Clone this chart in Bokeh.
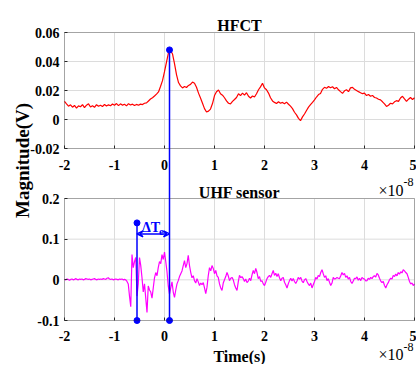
import numpy as np
from math import pi
from bokeh.plotting import figure
from bokeh.models import (Range1d, FixedTicker, Label, Arrow, VeeHead, BoxAnnotation,
                          LinearAxis)
from bokeh.embed import file_html
from bokeh.resources import INLINE

# ---------------- data (time in units of 1e-8 s) ----------------
hfct_step = 0.04
hfct_v = [
    0.0125, 0.0108, 0.0092, 0.0101, 0.0085, 0.0097, 0.0079, 0.0094, 0.0088, 0.0103,
    0.0082, 0.0099, 0.0108, 0.0086, 0.0095, 0.0084, 0.0102, 0.0091, 0.0098, 0.0089,
    0.0104, 0.0093, 0.0101, 0.0095, 0.0107, 0.0098, 0.0110, 0.0096, 0.0108, 0.0099,
    0.0105, 0.0094, 0.0109, 0.0100, 0.0106, 0.0097, 0.0104, 0.0098, 0.0106, 0.0103,
    0.0112, 0.0115, 0.0128, 0.0141, 0.0150, 0.0162, 0.0175, 0.0190, 0.0228, 0.0268,
    0.0330, 0.0395, 0.0462, 0.0478, 0.0452, 0.0385, 0.0310, 0.0255, 0.0232, 0.0218,
    0.0228, 0.0221, 0.0235, 0.0242, 0.0258, 0.0250, 0.0222, 0.0182, 0.0148, 0.0112,
    0.0075, 0.0052, 0.0058, 0.0072, 0.0110, 0.0165, 0.0192, 0.0203, 0.0178, 0.0168,
    0.0150, 0.0128, 0.0112, 0.0108, 0.0125, 0.0138, 0.0152, 0.0178, 0.0165, 0.0182,
    0.0168, 0.0185, 0.0160, 0.0148, 0.0162, 0.0155, 0.0178, 0.0205, 0.0225, 0.0250,
    0.0218, 0.0205, 0.0182, 0.0150, 0.0128, 0.0118, 0.0110, 0.0122, 0.0112, 0.0118,
    0.0109, 0.0120, 0.0105, 0.0092, 0.0075, 0.0050, 0.0032, 0.0008, -0.0008, 0.0018,
    0.0038, 0.0062, 0.0085, 0.0102, 0.0118, 0.0135, 0.0155, 0.0172, 0.0180, 0.0208,
    0.0222, 0.0215, 0.0228, 0.0219, 0.0226, 0.0212, 0.0221, 0.0205, 0.0192, 0.0180,
    0.0198, 0.0205, 0.0192, 0.0218, 0.0222, 0.0208, 0.0200, 0.0192, 0.0185, 0.0178,
    0.0182, 0.0165, 0.0172, 0.0160, 0.0166, 0.0152, 0.0148, 0.0140, 0.0135, 0.0122,
    0.0108, 0.0090, 0.0098, 0.0112, 0.0108, 0.0122, 0.0130, 0.0125, 0.0148, 0.0160,
    0.0142, 0.0125, 0.0140, 0.0152, 0.0138, 0.0150,
]

uhf_step = 0.025
uhf_v = [
    0.001, 0.000, 0.002, 0.001, -0.001, 0.001, 0.002, 0.000, 0.001, 0.003,
    0.001, 0.000, 0.002, 0.001, 0.002, 0.000, 0.001, 0.003, 0.002, 0.001,
    0.002, 0.000, 0.001, 0.002, 0.003, 0.001, 0.000, 0.002, 0.001, 0.002,
    0.001, 0.003, 0.002, 0.001, 0.004, 0.005, 0.002, 0.001, 0.002, 0.000,
    0.001, 0.002, 0.001, 0.000, 0.002, 0.001, 0.002, 0.000, 0.001, 0.000,
    -0.004, -0.010, -0.040, -0.066, 0.062, 0.030, 0.045, 0.055, -0.040, -0.010,
    0.055, 0.035, 0.005, -0.030, -0.010, -0.045, -0.080, -0.015, -0.025, -0.030,
    -0.045, -0.020, 0.005, 0.018, 0.010, 0.030, 0.045, 0.040, 0.062, 0.050,
    0.068, 0.045, 0.020, -0.015, -0.035, -0.020, -0.005, -0.030, -0.043, -0.025,
    -0.010, -0.002, 0.008, 0.015, 0.022, 0.035, 0.047, 0.030, 0.040, 0.060,
    0.035, 0.018, 0.005, 0.010, -0.002, -0.008, 0.003, -0.005, -0.014, -0.008,
    -0.012, -0.007, -0.020, -0.034, -0.018, 0.010, 0.030, 0.022, 0.035, 0.028,
    0.015, 0.023, 0.010, 0.006, -0.010, -0.020, -0.026, -0.008, 0.000, 0.008,
    0.018, 0.010, -0.002, 0.004, 0.006, 0.000, -0.012, -0.020, -0.026, -0.005,
    0.011, 0.005, 0.008, 0.003, -0.004, 0.002, -0.007, -0.003, 0.004, -0.002,
    0.012, 0.023, 0.015, 0.028, 0.018, 0.003, 0.008, -0.004, -0.002, -0.010,
    -0.014, -0.006, 0.003, 0.008, 0.011, 0.006, 0.015, 0.023, 0.011, 0.016,
    0.008, 0.015, 0.005, -0.002, 0.004, 0.006, -0.006, -0.012, -0.020, -0.010,
    -0.002, 0.004, -0.003, 0.003, -0.004, -0.009, -0.003, 0.006, 0.002, 0.006,
    -0.003, -0.007, 0.000, 0.003, -0.004, -0.010, -0.014, -0.008, -0.020, -0.012,
    -0.004, 0.006, 0.002, 0.011, 0.008, 0.018, 0.025, 0.015, 0.006, 0.010,
    -0.002, 0.003, -0.006, -0.014, -0.008, 0.006, 0.002, 0.003, 0.006, 0.004,
    0.003, 0.010, 0.018, 0.012, 0.016, 0.006, 0.010, 0.002, 0.006, -0.004,
    -0.009, -0.003, 0.004, 0.003, 0.007, -0.001, 0.004, -0.002, 0.006, 0.003,
    0.002, -0.003, -0.002, 0.004, 0.001, 0.006, 0.003, 0.008, 0.010, 0.007,
    0.016, 0.012, 0.004, -0.003, -0.007, -0.004, -0.014, -0.020, -0.012, -0.007,
    0.000, 0.004, 0.002, 0.011, 0.008, 0.014, 0.010, 0.018, 0.014, 0.020,
    0.017, 0.025, 0.022, 0.018, 0.015, 0.006, -0.004, -0.010, -0.008, -0.014,
    -0.010,
]

t_start = -2.0
hfct_t = t_start + hfct_step * np.arange(len(hfct_v))
uhf_t = t_start + uhf_step * np.arange(len(uhf_v))

t_peak = 0.10        # HFCT peak time
hfct_peak = 0.048    # HFCT peak value
t_onset = -0.55      # UHF onset time
onset_mark = 0.14    # top of onset marker line
arrow_level = 0.113  # level of the delta-T arrow
dt_text_level = 0.128

x_ticks = [-2, -1, 0, 1, 2, 3, 4, 5]
x_tick_labels = ["-2", "-1", "0", "1", "2", "3", "4", "5"]
top_y_ticks = [-0.02, 0, 0.02, 0.04, 0.06]
top_y_labels = ["-0.02", "0", "0.02", "0.04", "0.06"]
bot_y_ticks = [-0.1, 0, 0.1, 0.2]
bot_y_labels = ["-0.1", "0", "0.1", "0.2"]
xlim = (-2, 5)
top_ylim = (-0.02, 0.06)
bot_ylim = (-0.1, 0.2)

# ---------------- layout (pixel rows/columns of the two panels) ----------------
W, H = 416, 364
px_left, px_right = 64, 414
px_top_t, px_top_b = 32, 148
px_bot_t, px_bot_b = 198, 320

FONT = "Liberation Serif"
BOX = "#262626"
GRID = "#dcdcdc"
BLUE = "#0000ff"

ux = (px_right - px_left) / (xlim[1] - xlim[0])
ub = (px_bot_b - px_bot_t) / (bot_ylim[1] - bot_ylim[0])
ut = (px_top_b - px_top_t) / (top_ylim[1] - top_ylim[0])
x_range = Range1d(xlim[0] - px_left / ux, xlim[1] + (W - px_right) / ux)
y_range = Range1d(bot_ylim[0] - (H - px_bot_b) / ub, bot_ylim[1] + px_bot_t / ub)
top_range = Range1d(top_ylim[0] - (H - px_top_b) / ut, top_ylim[1] + px_top_t / ut)


def top_to_bot(v):
    return y_range.start + (v - top_range.start) * (y_range.end - y_range.start) / (
        top_range.end - top_range.start)


xmid = (xlim[0] + xlim[1]) / 2

p = figure(width=W, height=H, x_range=x_range, y_range=y_range,
           extra_y_ranges={"top": top_range},
           x_axis_location=None, y_axis_location=None,
           output_backend="svg", toolbar_location=None, min_border=0)
p.outline_line_color = None
p.xgrid.visible = False
p.ygrid.visible = False


def make_axis(ticks, labels, loc, standoff, yname="default"):
    ax = LinearAxis(ticker=FixedTicker(ticks=ticks), fixed_location=loc, y_range_name=yname)
    ax.major_label_overrides = dict(zip(ticks, labels))
    ax.major_label_text_font = FONT
    ax.major_label_text_font_style = "bold"
    ax.major_label_text_font_size = "14px"
    ax.major_label_text_color = "black"
    ax.major_label_standoff = standoff
    ax.axis_line_color = None
    ax.major_tick_in = 3
    ax.major_tick_out = 0
    ax.major_tick_line_color = BOX
    ax.minor_tick_line_color = None
    return ax


p.add_layout(make_axis(x_ticks, x_tick_labels, top_ylim[0], 11, "top"), "below")
p.add_layout(make_axis(x_ticks, x_tick_labels, bot_ylim[0], 10), "below")
p.add_layout(make_axis(top_y_ticks, top_y_labels, xlim[0], 5, "top"), "left")
p.add_layout(make_axis(bot_y_ticks, bot_y_labels, xlim[0], 5), "left")

# grid lines inside each panel
n_x = len(x_ticks)
p.segment(x0=x_ticks, y0=[top_ylim[0]] * n_x, x1=x_ticks, y1=[top_ylim[1]] * n_x,
          line_color=GRID, line_width=1, y_range_name="top")
p.segment(x0=[xlim[0]] * len(top_y_ticks), y0=top_y_ticks,
          x1=[xlim[1]] * len(top_y_ticks), y1=top_y_ticks,
          line_color=GRID, line_width=1, y_range_name="top")
p.segment(x0=x_ticks, y0=[bot_ylim[0]] * n_x, x1=x_ticks, y1=[bot_ylim[1]] * n_x,
          line_color=GRID, line_width=1)
p.segment(x0=[xlim[0]] * len(bot_y_ticks), y0=bot_y_ticks,
          x1=[xlim[1]] * len(bot_y_ticks), y1=bot_y_ticks,
          line_color=GRID, line_width=1)

# signals
p.line(hfct_t, hfct_v, line_color="#ff0000", line_width=1.2, y_range_name="top")
p.line(uhf_t, uhf_v, line_color="#ff00ff", line_width=1.2)

# time markers
p.segment(x0=[t_peak, t_onset], y0=[bot_ylim[0], bot_ylim[0]],
          x1=[t_peak, t_onset], y1=[top_to_bot(hfct_peak), onset_mark],
          line_color=BLUE, line_width=1.5)
p.scatter([t_onset, t_onset, t_peak], [onset_mark, bot_ylim[0], bot_ylim[0]],
          size=6, color=BLUE)
p.scatter([t_peak], [hfct_peak], size=6, color=BLUE, y_range_name="top")
p.add_layout(Arrow(x_start=t_onset, y_start=arrow_level, x_end=t_peak, y_end=arrow_level,
                   line_color=BLUE, line_width=1.5,
                   start=VeeHead(size=6, line_color=BLUE, line_width=1.5, fill_color=None),
                   end=VeeHead(size=6, line_color=BLUE, line_width=1.5, fill_color=None)))

# panel boxes
p.add_layout(BoxAnnotation(left=xlim[0], right=xlim[1], bottom=top_ylim[0], top=top_ylim[1],
                           fill_alpha=0, line_color=BOX, line_width=1, y_range_name="top"))
p.add_layout(BoxAnnotation(left=xlim[0], right=xlim[1], bottom=bot_ylim[0], top=bot_ylim[1],
                           fill_alpha=0, line_color=BOX, line_width=1))


def lab(text, x, y, size, xo=0, yo=0, align="center", baseline="alphabetic",
        angle=0, bold=True, color="black", yname="default"):
    p.add_layout(Label(x=x, y=y, x_offset=xo, y_offset=yo, text=text,
                       text_font=FONT, text_font_size=f"{size}px",
                       text_font_style="bold" if bold else "normal",
                       text_align=align, text_baseline=baseline, angle=angle,
                       text_color=color, y_range_name=yname))


lab("HFCT", xmid, top_ylim[1], 16, yo=7, yname="top")
lab("UHF sensor", xmid, bot_ylim[1], 16, yo=6)
lab("×10", xlim[1], bot_ylim[1], 16, xo=-11, yo=8, align="right", bold=False)
lab("-8", xlim[1], bot_ylim[1], 12, xo=-11, yo=17, align="left", bold=False)
lab("Magnitude(V)", xlim[0], top_ylim[0], 19, xo=-42, yo=-12, angle=pi / 2, yname="top")
lab("Time(s)", xmid, bot_ylim[0], 16, yo=-36)
lab("×10", xlim[1], bot_ylim[0], 16, xo=-11, yo=-34, align="right", bold=False)
lab("-8", xlim[1], bot_ylim[0], 12, xo=-11, yo=-26, align="left", bold=False)
lab("ΔT", t_onset, dt_text_level, 14, xo=5, align="left", color=BLUE)
lab("e", t_onset, dt_text_level, 11, xo=22, yo=-4, align="left", color=BLUE)

open("out.html", "w").write(file_html(p, INLINE))
